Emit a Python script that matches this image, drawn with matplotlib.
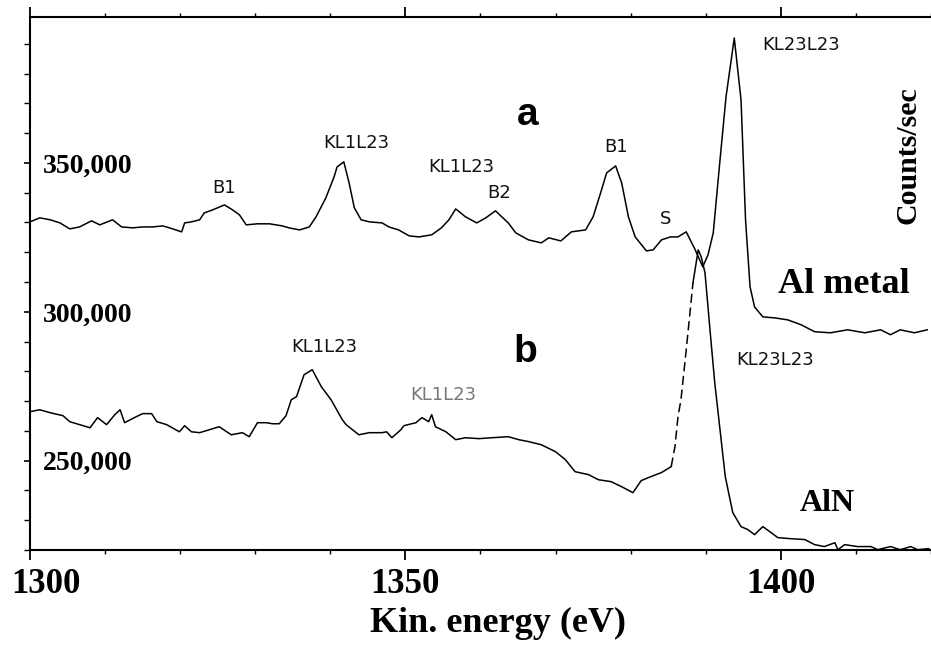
import numpy as np
import matplotlib
matplotlib.use("Agg")
import matplotlib.pyplot as plt
import matplotlib.transforms as mtransforms
from matplotlib.ticker import MultipleLocator, FixedLocator

# Spectrum a: Al metal (kinetic energy in eV, counts/sec)
energy_a = [1300.0, 1301.3, 1302.7, 1304.0, 1305.3, 1306.6, 1308.2, 1309.3, 1311.0, 1312.2,
            1313.7, 1315.0, 1316.3, 1317.7, 1319.0, 1320.2, 1320.6, 1321.5, 1322.6, 1323.2,
            1324.3, 1325.9, 1327.0, 1327.9, 1328.8, 1330.3, 1331.9, 1333.6, 1334.5, 1335.9,
            1337.2, 1338.1, 1339.4, 1340.5, 1340.9, 1341.8, 1342.5, 1343.2, 1344.1, 1345.2,
            1346.9, 1347.8, 1349.1, 1350.5, 1351.8, 1353.5, 1354.8, 1355.8, 1356.7, 1358.0,
            1359.5, 1360.7, 1362.0, 1363.7, 1364.7, 1366.4, 1368.1, 1369.1, 1370.7, 1372.1,
            1374.0, 1375.0, 1376.0, 1376.8, 1378.0, 1378.8, 1379.7, 1380.6, 1382.1, 1383.0,
            1384.1, 1385.3, 1386.3, 1387.4, 1388.6, 1389.6, 1390.3, 1391.0, 1391.9, 1392.7,
            1393.8, 1394.7, 1395.3, 1395.9, 1396.5, 1397.6, 1399.2, 1400.9, 1402.7, 1404.5,
            1406.6, 1408.9, 1411.2, 1413.3, 1414.6, 1415.9, 1417.8, 1419.5]
counts_a = [330200, 331550, 330900, 329850, 327850, 328500, 330550, 329200, 330900, 328500,
            328200, 328500, 328500, 328850, 327850, 326850, 329850, 330200, 330900, 333200,
            334200, 335900, 334200, 332550, 329200, 329550, 329550, 328850, 328200, 327500,
            328500, 331900, 338250, 345300, 348650, 350350, 343300, 334900, 330900, 330200,
            329850, 328500, 327500, 325500, 325150, 325850, 328200, 330900, 334550, 331900,
            329850, 331550, 333900, 329850, 326500, 324150, 323150, 324850, 323800, 326850,
            327500, 331900, 339950, 346650, 349000, 343300, 331900, 325150, 320450, 320800,
            324150, 325150, 325150, 326850, 320800, 315100, 319100, 326500, 351000, 372150,
            391950, 371150, 330900, 308400, 301650, 298300, 297950, 297300, 295650, 293300,
            292950, 293950, 292950, 293950, 292300, 293950, 292950, 293950]

# Spectrum b: AlN
energy_b = [1300.0, 1301.3, 1302.7, 1304.4, 1305.3, 1306.6, 1308.0, 1309.0, 1310.2, 1311.3,
            1312.0, 1312.6, 1313.9, 1315.0, 1316.2, 1316.9, 1318.2, 1319.9, 1320.6, 1321.5,
            1322.6, 1323.9, 1325.2, 1326.8, 1328.3, 1329.2, 1330.3, 1331.5, 1332.3, 1333.2,
            1334.1, 1334.8, 1335.5, 1336.5, 1337.6, 1338.8, 1340.1, 1341.6, 1342.1, 1343.8,
            1345.2, 1346.9, 1347.5, 1348.2, 1349.4, 1349.8, 1351.4, 1352.2, 1353.1, 1353.5,
            1354.0, 1355.4, 1356.7, 1358.0, 1359.8, 1361.5, 1363.7, 1365.1, 1366.4, 1368.1,
            1370.0, 1371.3, 1372.6, 1374.4, 1375.7, 1377.4, 1378.8, 1380.3, 1381.4, 1382.7,
            1384.1, 1385.4, 1385.9, 1386.3, 1386.7, 1387.4, 1388.3, 1389.0, 1389.4, 1389.9,
            1390.6, 1391.2, 1392.6, 1393.6, 1394.7, 1395.6, 1396.5, 1397.6, 1398.7, 1399.6,
            1401.3, 1403.2, 1404.5, 1405.8, 1407.2, 1407.6, 1408.5, 1410.2, 1412.0, 1412.9,
            1414.6, 1415.9, 1417.3, 1418.2, 1419.7]
counts_b = [266450, 267100, 266100, 265100, 263100, 262100, 261050, 264450, 262100, 265450,
            267100, 262750, 264450, 265800, 265800, 263100, 262100, 259700, 261750, 259700,
            259400, 260400, 261400, 258700, 259400, 258050, 262750, 262750, 262400, 262400,
            265100, 270450, 271500, 278850, 280550, 274850, 270450, 263750, 262100, 258700,
            259400, 259400, 259700, 257700, 260400, 261750, 262750, 264450, 263100, 265450,
            261400, 259700, 257050, 257700, 257400, 257700, 258050, 257050, 256400, 255350,
            253000, 250350, 246300, 245300, 243600, 242950, 241250, 239250, 243300, 244650,
            246000, 248000, 254700, 264750, 270450, 287250, 309750, 320800, 318450, 313100,
            292950, 276150, 244650, 232550, 227850, 226850, 225150, 227850, 225850, 224150,
            223800, 223500, 221800, 221150, 222450, 220100, 221800, 221150, 221150, 220100,
            221150, 220100, 221150, 220100, 220450]

ytick_vals = [250000, 300000, 350000]
ytick_labels = ["250,000", "300,000", "350,000"]
xtick_vals = [1300, 1350, 1400]
xtick_labels = ["1300", "1350", "1400"]

serif = "Liberation Serif"
thin = "DejaVu Sans"

fig = plt.figure(figsize=(9.31, 6.45), dpi=100)
ax = fig.add_axes([0.0322, 0.1473, 0.9678, 0.8263])

ax.plot(energy_a, counts_a, color="black", lw=1.1)

eb = np.array(energy_b)
cb = np.array(counts_b)
m1 = eb <= 1385.4
m2 = (eb >= 1385.4) & (eb <= 1388.3)
m3 = eb >= 1388.3
ax.plot(eb[m1], cb[m1], color="black", lw=1.1)
ax.plot(eb[m2], cb[m2], color="black", lw=1.1, ls=(0, (6, 3)))
ax.plot(eb[m3], cb[m3], color="black", lw=1.1)

ax.set_xlim(1300, 1420)
ax.set_ylim(220000, 399000)

for s in ["left", "bottom", "top"]:
    ax.spines[s].set_linewidth(1.5)
ax.spines["right"].set_visible(False)

ax.xaxis.set_major_locator(FixedLocator(xtick_vals))
ax.xaxis.set_minor_locator(MultipleLocator(10))
ax.set_xticklabels(xtick_labels, fontsize=25, fontweight="bold", family=serif)
ax.tick_params(axis="x", which="major", direction="out", length=7, width=1.3,
               top=True, pad=6)
ax.tick_params(axis="x", which="minor", direction="out", length=3, width=1.0, top=True)
# the first label sits a bit right of its tick, as in the print
first = ax.get_xticklabels()[0]
first.set_transform(first.get_transform() +
                    mtransforms.ScaledTranslation(0.16, 0, fig.dpi_scale_trans))

ax.yaxis.set_major_locator(FixedLocator(ytick_vals))
ax.yaxis.set_minor_locator(MultipleLocator(10000))
ax.set_yticklabels(ytick_labels, fontsize=20, fontweight="bold", family=serif)
ax.tick_params(axis="y", which="major", direction="out", length=4, width=1.2, pad=-13)
ax.tick_params(axis="y", which="minor", direction="out", length=4, width=1.0)
for lab in ax.get_yticklabels():
    lab.set_horizontalalignment("left")

ax.set_xlabel("Kin. energy (eV)", fontsize=26, fontweight="bold", family=serif, va="center")
ax.xaxis.set_label_coords(0.519, -0.137)

ax.text(0.9745, 0.741, "Counts/sec", transform=ax.transAxes, rotation=90,
        ha="center", va="center", fontsize=21.5, fontweight="bold", family=serif)

# peak labels
small = dict(fontsize=13, family=thin, color="#111111", ha="center", va="center")
ax.text(1325.8, 341600, "B1", **small)
ax.text(1343.4, 356700, "KL1L23", **small)
ax.text(1357.4, 348650, "KL1L23", **small)
ax.text(1362.5, 339950, "B2", **small)
ax.text(1378.0, 355350, "B1", **small)
ax.text(1384.7, 331200, "S", **small)
ax.text(1402.7, 389600, "KL23L23", **small)
ax.text(1339.2, 288250, "KL1L23", **small)
ax.text(1355.0, 272150, "KL1L23", fontsize=13, family=thin, color="#777777",
        ha="center", va="center")
ax.text(1399.2, 283900, "KL23L23", **small)

big = dict(fontsize=28, fontweight="bold", family="Liberation Sans", ha="center", va="center")
ax.text(1366.3, 366100, "a", **big)
ax.text(1366.0, 286600, "b", **big)

ax.text(1408.4, 309050, "Al metal", fontsize=26, fontweight="bold", family=serif,
        ha="center", va="center")
ax.text(1406.2, 235550, "AlN", fontsize=23, fontweight="bold", family=serif,
        ha="center", va="center")

fig.savefig("out.png", dpi=100)
